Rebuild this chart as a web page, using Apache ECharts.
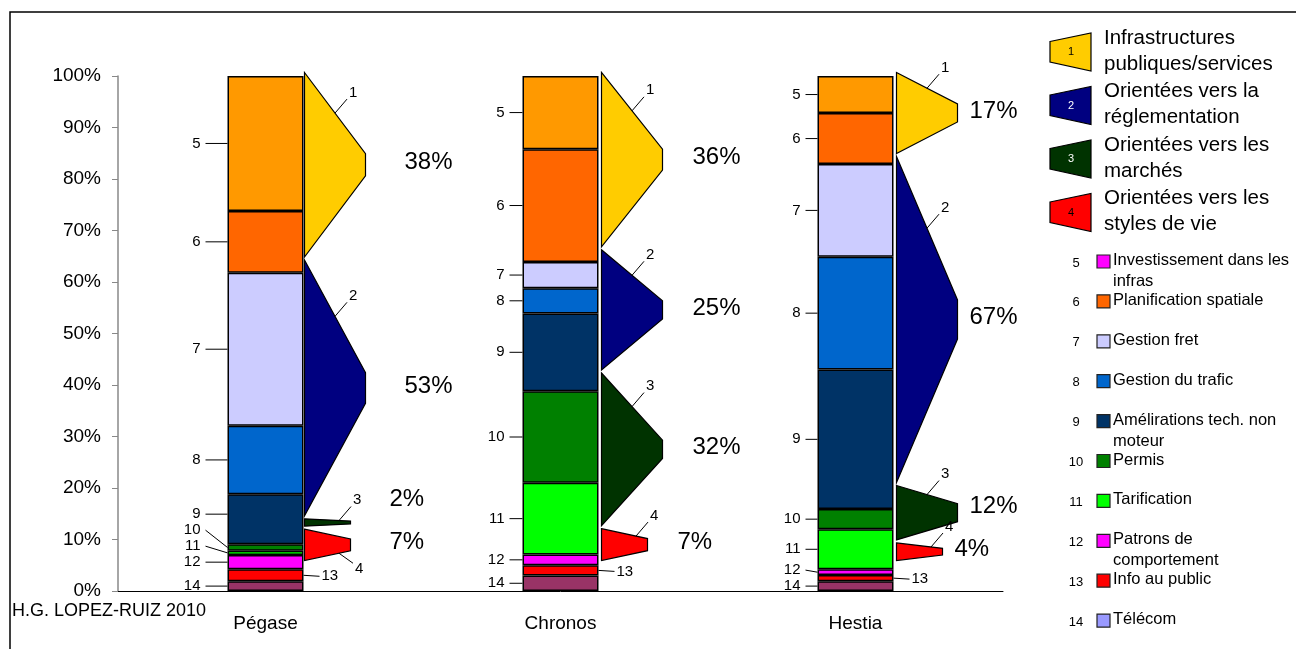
<!DOCTYPE html>
<html><head><meta charset="utf-8">
<script src="https://cdn.jsdelivr.net/npm/echarts@6/dist/echarts.min.js"></script>
<style>html,body{margin:0;padding:0;background:#fff}#c{width:1296px;height:649px}</style>
</head><body><div id="c"></div>
<script>
// ---------- DATA ----------
const categories = ['Pégase', 'Chronos', 'Hestia'];
const segmentIds = [5, 6, 7, 8, 9, 10, 11, 12, 13, 14];
const segmentNames = [
  'Investissement dans les\ninfras', 'Planification spatiale', 'Gestion fret', 'Gestion du trafic',
  'Amélirations tech. non\nmoteur', 'Permis', 'Tarification', 'Patrons de\ncomportement',
  'Info au public', 'Télécom'
];
// shares (%) per category, ordered as segmentIds (5 .. 14)
const pegase  = [26.2, 12.0, 29.7, 13.3, 9.7, 1.3, 0.8, 2.8, 2.3, 1.9];
const chronos = [14.2, 21.9, 5.1, 4.9, 15.1, 17.8, 13.9, 2.1, 2.0, 3.0];
const hestia  = [7.2, 9.9, 18.0, 21.9, 27.1, 3.9, 7.8, 1.1, 1.2, 1.9];
const groupIds = [1, 2, 3, 4];
const groupNames = [
  'Infrastructures\npubliques/services', 'Orientées vers la\nréglementation',
  'Orientées vers les\nmarchés', 'Orientées vers les\nstyles de vie'
];
const groupMembers = [[5, 6], [7, 8, 9], [10, 11], [12, 13, 14]];
const yTickValues = [0, 10, 20, 30, 40, 50, 60, 70, 80, 90, 100];
const author = 'H.G. LOPEZ-RUIZ 2010';

// ---------- STYLE ----------
const FONT = '"Liberation Sans", Arial, sans-serif';
const barColors = ['#FF9900', '#FF6600', '#CCCCFF', '#0066CC', '#003366', '#008000', '#00FF00', '#FF00FF', '#FF0000', '#993366'];
const legendColors = ['#FF00FF', '#FF6600', '#CCCCFF', '#0066CC', '#003366', '#008000', '#00FF00', '#FF00FF', '#FF0000', '#9999FF'];
const groupColors = ['#FFCC00', '#000080', '#003300', '#FF0000'];
const groupNumColors = ['#000', '#fff', '#fff', '#000'];
const BAR_W = 76;
const LEADER_LEN = [22, 13, 12];
const PCT_OFFSET = [39, 30, 12];
const ARROW_GAP = [1, 3, 3];

const catValues = [pegase, chronos, hestia];

function groupSum(vals, members) {
  return members.reduce((s, id) => s + vals[segmentIds.indexOf(id)], 0);
}

function segLabels(params, api) {
  const ci = params.dataIndex;
  const vals = catValues[ci];
  const children = [];
  const cx = api.coord([ci, 0])[0];
  const bl = cx - BAR_W / 2, br = cx + BAR_W / 2;
  const len = LEADER_LEN[ci];
  let cum = 0;
  const mids = [], tops = [], bots = [];
  for (let i = vals.length - 1; i >= 0; i--) {
    const b = cum; cum += vals[i];
    mids[i] = api.coord([ci, (b + cum) / 2])[1];
    tops[i] = api.coord([ci, cum])[1];
    bots[i] = api.coord([ci, b])[1];
  }
  let prevY = Infinity;
  for (let i = vals.length - 1; i >= 0; i--) {
    const id = segmentIds[i];
    const my = mids[i];
    if (id === 13) {
      children.push({ type: 'line', shape: { x1: br, y1: my, x2: br + 16, y2: my + 1 }, style: { stroke: '#000', lineWidth: 1 } });
      children.push({ type: 'text', x: br + 18, y: my + 1, style: { text: String(id), fill: '#000', font: '15px ' + FONT, align: 'left', verticalAlign: 'middle' } });
    } else {
      const ly = Math.min(my, prevY - 16);
      prevY = ly;
      const inside = ly >= tops[i] + 3 && ly <= bots[i] - 3;
      const ey = inside ? ly : my;
      children.push({ type: 'line', shape: { x1: bl - len, y1: ly, x2: bl, y2: ey }, style: { stroke: '#000', lineWidth: 1 } });
      children.push({ type: 'text', x: bl - len - 5, y: ly, style: { text: String(id), fill: '#000', font: '15px ' + FONT, align: 'right', verticalAlign: 'middle' } });
    }
  }
  return { type: 'group', children };
}

function arrows(params, api) {
  const ci = params.dataIndex;
  const vals = catValues[ci];
  const cx = api.coord([ci, 0])[0];
  const lx = cx + BAR_W / 2 + ARROW_GAP[ci];
  const children = [];
  let start = 0;
  const geo = groupMembers.map(m => {
    const s = groupSum(vals, m);
    const yTop = api.coord([ci, start])[1] + 1.5;
    start += s;
    const yBot = api.coord([ci, start])[1] - 1.5;
    const h = yBot - yTop;
    const w = h < 40 ? 46 : 61;
    const seg = Math.min(0.38 * h, Math.max(18, 0.12 * h));
    const mid = (yTop + yBot) / 2;
    return { s, yTop, yBot, h, w, seg, mid };
  });
  geo.forEach((g, k) => {
    const pts = [[lx, g.yTop], [lx + g.w, g.mid - g.seg / 2], [lx + g.w, g.mid + g.seg / 2], [lx, g.yBot]];
    children.push({ type: 'polygon', shape: { points: pts }, style: { fill: groupColors[k], stroke: '#000', lineWidth: 1.2 } });
    const small = g.h < 40;
    const prevSmall = k > 0 && geo[k - 1].h < 40;
    const f = small ? 0.75 : 0.5;
    if (!prevSmall) {
      const sx = lx + f * g.w, sy = g.yTop + f * (g.mid - g.seg / 2 - g.yTop);
      children.push({ type: 'line', shape: { x1: sx, y1: sy, x2: sx + 12, y2: sy - 14 }, style: { stroke: '#000', lineWidth: 1 } });
      children.push({ type: 'text', x: sx + 14, y: sy - 13, style: { text: String(groupIds[k]), fill: '#000', font: '15px ' + FONT, align: 'left', verticalAlign: 'bottom' } });
    } else {
      const sx = lx + f * g.w, sy = g.yBot + f * (g.mid + g.seg / 2 - g.yBot);
      children.push({ type: 'line', shape: { x1: sx, y1: sy, x2: sx + 14, y2: sy + 10 }, style: { stroke: '#000', lineWidth: 1 } });
      children.push({ type: 'text', x: sx + 16, y: sy + 8, style: { text: String(groupIds[k]), fill: '#000', font: '15px ' + FONT, align: 'left', verticalAlign: 'top' } });
    }
  });
  let prevPy = Infinity;
  for (let k = geo.length - 1; k >= 0; k--) {
    const g = geo[k];
    const py = Math.min(g.mid - 2, prevPy - 43);
    prevPy = py;
    children.push({ type: 'text', x: lx + g.w + PCT_OFFSET[ci], y: py, style: { text: Math.round(g.s) + '%', fill: '#000', font: '24px ' + FONT, align: 'left', verticalAlign: 'middle' } });
  }
  return { type: 'group', children };
}

const series = [];
for (let i = segmentIds.length - 1; i >= 0; i--) {
  series.push({
    name: String(segmentIds[i]), type: 'bar', stack: 'total', barWidth: BAR_W,
    itemStyle: { color: barColors[i], borderColor: '#000', borderWidth: 1.5 },
    data: catValues.map(v => v[i])
  });
}
series.push({ type: 'custom', renderItem: segLabels, yAxisIndex: 0, data: categories.map((c, i) => [i, 0]), encode: { x: 0, y: 1 }, z: 5 });
series.push({ type: 'custom', renderItem: arrows, yAxisIndex: 1, data: categories.map((c, i) => [i, 0]), encode: { x: 0, y: 1 }, z: 5 });

// ---------- graphics: frame, author, legends ----------
const graphic = [];
graphic.push({ type: 'rect', shape: { x: 10, y: 12, width: 1400, height: 800 }, style: { fill: 'none', stroke: '#000', lineWidth: 1.5 }, z: 100 });
graphic.push({ type: 'text', x: 12, y: 611, style: { text: author, fill: '#000', font: '18px ' + FONT, align: 'left', verticalAlign: 'middle' } });
groupIds.forEach((id, k) => {
  const y0 = 33 + k * 53.5;
  graphic.push({ type: 'polygon', shape: { points: [[1050, y0 + 8.5], [1091, y0], [1091, y0 + 38], [1050, y0 + 29]] }, style: { fill: groupColors[k], stroke: '#000', lineWidth: 1.2 } });
  graphic.push({ type: 'text', x: 1071, y: y0 + 19, style: { text: String(id), fill: groupNumColors[k], font: '11px ' + FONT, align: 'center', verticalAlign: 'middle' } });
  graphic.push({ type: 'text', x: 1104, y: y0 - 8, style: { text: groupNames[k], fill: '#000', font: '20.5px ' + FONT, lineHeight: 26, align: 'left', verticalAlign: 'top' } });
});
segmentIds.forEach((id, i) => {
  const ry = 261 + i * 39.9;
  graphic.push({ type: 'text', x: 1076, y: ry + 2, style: { text: String(id), fill: '#000', font: '13px ' + FONT, align: 'center', verticalAlign: 'middle' } });
  graphic.push({ type: 'rect', shape: { x: 1097, y: ry - 6, width: 13, height: 13 }, style: { fill: legendColors[i], stroke: '#222', lineWidth: 1.2 } });
  graphic.push({ type: 'text', x: 1113, y: ry - 11, style: { text: segmentNames[i], fill: '#000', font: '16.5px ' + FONT, lineHeight: 21, align: 'left', verticalAlign: 'top' } });
});

const chart = echarts.init(document.getElementById('c'), null, { renderer: 'canvas' });
chart.setOption({
  animation: false,
  backgroundColor: '#fff',
  textStyle: { fontFamily: FONT },
  grid: { left: 118, right: 293, top: 76, bottom: 58, containLabel: false },
  xAxis: {
    type: 'category', data: categories,
    axisLine: { lineStyle: { color: '#000', width: 1 } },
    axisTick: { length: 6, lineStyle: { color: '#000' } },
    axisLabel: { fontSize: 19, color: '#000', margin: 23, fontFamily: FONT }
  },
  yAxis: [{
    type: 'value', min: 0, max: 100, interval: 10,
    axisLine: { show: true, lineStyle: { color: '#888', width: 1.5 } },
    axisTick: { show: true, length: 6, lineStyle: { color: '#888' } },
    splitLine: { show: false },
    axisLabel: { fontSize: 19, color: '#000', margin: 17, fontFamily: FONT,
      formatter: v => (yTickValues.indexOf(v) >= 0 ? v + '%' : '') }
  }, {
    type: 'value', inverse: true, min: 1.02, max: 105.9, show: false
  }],
  series,
  graphic
});
</script></body></html>
